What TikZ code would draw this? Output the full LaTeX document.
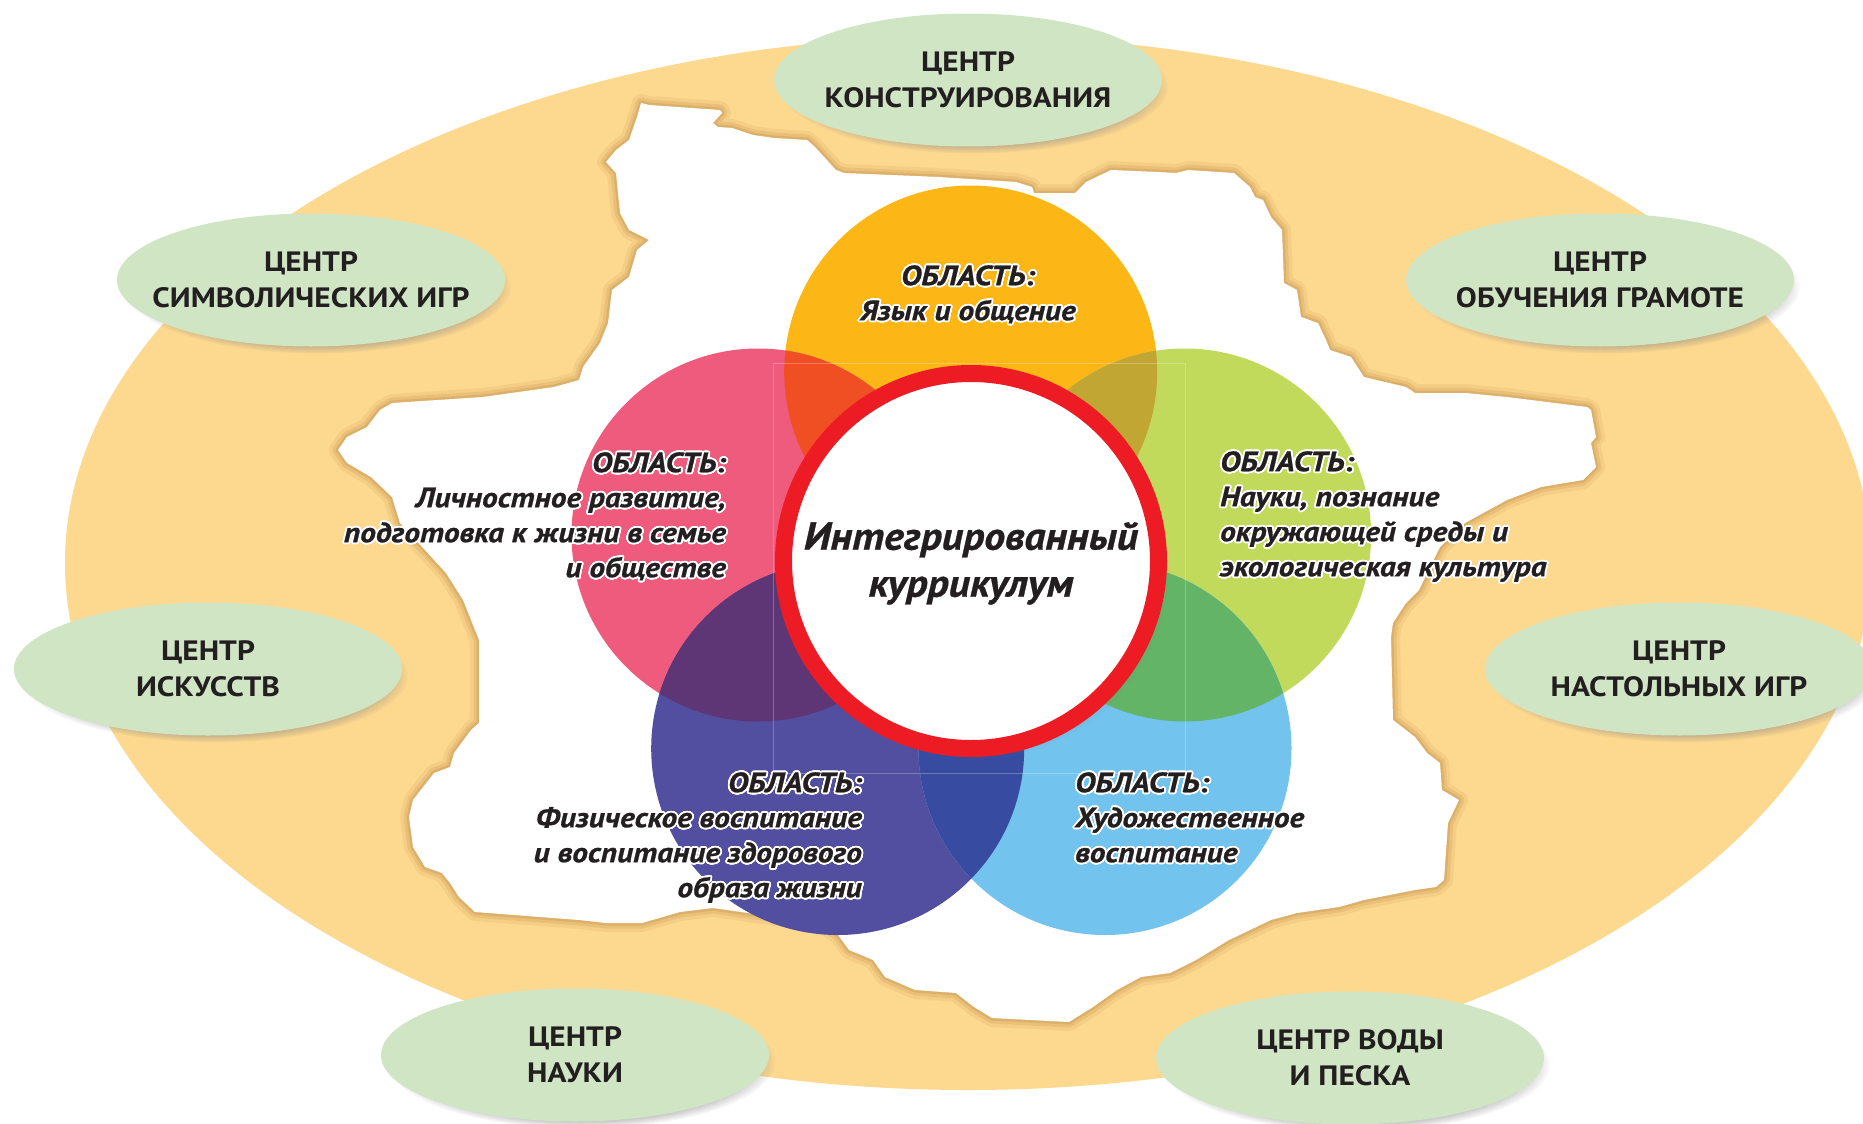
\documentclass[tikz,border=0pt]{standalone}
\usepackage{fontspec}
\usepackage[copies]{contour}
\usetikzlibrary{shapes.geometric,shadows,fadings}
\newfontfamily\pthub{PT Sans}[FakeStretch=1.12]
\newfontfamily\ptarea{PT Sans}[FakeStretch=1.12, FakeBold=0.8]
\newfontfamily\ptcore{PT Sans}[FakeStretch=1.07, FakeBold=0.8]
\contourlength{1.8pt}
\contournumber{24}
\definecolor{ringorange}{RGB}{253,216,143}
\definecolor{ringshade}{RGB}{190,140,70}
\definecolor{hubgreen}{RGB}{207,229,196}
\definecolor{inkdark}{RGB}{35,31,32}
\definecolor{cyellow}{RGB}{252,182,21}
\definecolor{cpink}{RGB}{239,91,125}
\definecolor{cgreen}{RGB}{193,218,92}
\definecolor{cpurple}{RGB}{82,79,160}
\definecolor{cblue}{RGB}{114,196,238}
\definecolor{oyp}{RGB}{240,78,35}
\definecolor{oyg}{RGB}{193,166,52}
\definecolor{opp}{RGB}{94,54,118}
\definecolor{ogb}{RGB}{100,180,103}
\definecolor{opb}{RGB}{55,75,160}
\definecolor{ringred}{RGB}{237,28,36}
\newcommand\hubfont{\pthub\bfseries\fontsize{28}{36}\selectfont}
\newcommand\areafont{\ptarea\bfseries\itshape\fontsize{28}{35}\selectfont}
\newcommand\corefont{\ptcore\bfseries\itshape\fontsize{39}{47}\selectfont}
\newcommand\wl[1]{\contour{white}{#1}}
\tikzset{
  franceshape/.style={insert path={(641,103) -- (649,105) -- (720,110) -- (722,113) -- (713,123) -- (718,127) -- (732,128) -- (753,135) -- (774,138) -- (807,140) -- (815,147) -- (836,170) -- (844,173) -- (939,177) -- (1016,182) -- (1032,187) -- (1034,193) -- (1075,193) -- (1086,182) -- (1111,170) -- (1158,172) -- (1176,173) -- (1188,170) -- (1234,173) -- (1250,187) -- (1255,197) -- (1263,200) -- (1271,217) -- (1282,230) -- (1284,283) -- (1297,290) -- (1301,317) -- (1318,323) -- (1326,340) -- (1330,350) -- (1351,357) -- (1364,377) -- (1406,387) -- (1415,393) -- (1465,393) -- (1507,397) -- (1587,407) -- (1591,410) -- (1596,437) -- (1591,443) -- (1596,467) -- (1583,480) -- (1541,487) -- (1507,500) -- (1465,523) -- (1440,547) -- (1419,590) -- (1406,603) -- (1393,623) -- (1391,637) -- (1393,720) -- (1415,737) -- (1427,753) -- (1440,763) -- (1442,790) -- (1459,800) -- (1448,823) -- (1444,880) -- (1436,887) -- (1415,890) -- (1364,900) -- (1339,907) -- (1297,913) -- (1271,920) -- (1229,940) -- (1196,960) -- (1170,973) -- (1141,977) -- (1117,990) -- (1093,1007) -- (1069,1022) -- (992,1018) -- (974,1007) -- (956,993) -- (915,990) -- (885,977) -- (873,960) -- (849,950) -- (838,935) -- (820,923) -- (748,913) -- (713,908) -- (680,912) -- (642,923) -- (606,923) -- (579,920) -- (475,912) -- (459,897) -- (450,883) -- (442,873) -- (425,867) -- (413,847) -- (409,817) -- (413,800) -- (434,773) -- (450,767) -- (454,753) -- (471,730) -- (479,723) -- (479,640) -- (463,600) -- (446,573) -- (425,550) -- (400,523) -- (392,497) -- (371,477) -- (347,463) -- (338,450) -- (347,437) -- (367,427) -- (380,410) -- (392,403) -- (483,397) -- (554,387) -- (579,380) -- (583,367) -- (600,343) -- (608,323) -- (612,290) -- (629,277) -- (637,250) -- (649,240) -- (629,230) -- (620,213) -- (616,173) -- (606,162) -- (616,150) -- (629,140) -- (637,117) -- cycle}},
  hub/.style={ellipse, fill=hubgreen, minimum width=388pt, minimum height=133pt, inner sep=0pt,
    circular drop shadow={shadow xshift=6pt, shadow yshift=-7pt, shadow scale=1, opacity=0.55}},
  hubtext/.style={font=\hubfont, text=inkdark, align=center, inner sep=0pt},
  areatext/.style={font=\areafont, text=inkdark, inner sep=0pt},
}
\begin{document}
\begin{tikzpicture}[x=1pt,y=-1pt]
\useasboundingbox (0,0) rectangle (1863,1124);
\fill[white] (0,0) rectangle (1863,1124);
% outer ring
\fill[ringorange] (968,563) ellipse [x radius=903, y radius=527];
% torn white area with soft shadow
\path[franceshape, draw=ringshade, line width=18pt, opacity=0.12, line join=round];
\path[franceshape, draw=ringshade, line width=11pt, opacity=0.2, line join=round];
\path[franceshape, draw=ringshade, line width=5pt, opacity=0.3, line join=round];
\path[franceshape, fill=white, rounded corners=2pt];
% petals
\coordinate (py) at (970.7,372);
\coordinate (pp) at (758,535);
\coordinate (pg) at (1184.6,535);
\coordinate (pv) at (837.7,748.5);
\coordinate (pb) at (1105,748.5);
\fill[cyellow] (py) circle [radius=186.5];
\fill[cpink] (pp) circle [radius=186.5];
\fill[cgreen] (pg) circle [radius=186.5];
\fill[cpurple] (pv) circle [radius=186.5];
\fill[cblue] (pb) circle [radius=186.5];
\begin{scope}\clip (py) circle [radius=186.5]; \fill[oyp] (pp) circle [radius=186.5]; \end{scope}
\begin{scope}\clip (py) circle [radius=186.5]; \fill[oyg] (pg) circle [radius=186.5]; \end{scope}
\begin{scope}\clip (pp) circle [radius=186.5]; \fill[opp] (pv) circle [radius=186.5]; \end{scope}
\begin{scope}\clip (pg) circle [radius=186.5]; \fill[ogb] (pb) circle [radius=186.5]; \end{scope}
\begin{scope}\clip (pv) circle [radius=186.5]; \fill[opb] (pb) circle [radius=186.5]; \end{scope}
\draw[white, opacity=0.25, line width=1pt] (773,363) rectangle (1185,773);
% core
\node[circle, minimum size=375pt, inner sep=0pt, fill=white, draw=ringred, line width=17pt,
  circular drop shadow={shadow xshift=7pt, shadow yshift=-7pt, shadow scale=1.02, opacity=0.4}] (core) at (971,561) {};
\node[font=\corefont, text=inkdark, align=center, inner sep=0pt, anchor=north] (coretext) at (971,522)
  {Интегрированный\\куррикулум};
% area texts
\node[areatext, align=center, anchor=north] (ayellow) at (968,265) {\wl{ОБЛАСТЬ:}\\\wl{Язык и общение}};
\node[areatext, align=right, anchor=north east] (apink) at (726,452)
  {\wl{ОБЛАСТЬ:}\\\wl{Личностное развитие,}\\\wl{подготовка к жизни в семье}\\\wl{и обществе}};
\node[areatext, align=left, anchor=north west] (agreen) at (1220,451)
  {\wl{ОБЛАСТЬ:}\\\wl{Науки, познание}\\\wl{окружающей среды и}\\\wl{экологическая культура}};
\node[areatext, align=right, anchor=north east] (apurple) at (862,772)
  {\wl{ОБЛАСТЬ:}\\\wl{Физическое воспитание}\\\wl{и воспитание здорового}\\\wl{образа жизни}};
\node[areatext, align=left, anchor=north west] (ablue) at (1075,772)
  {\wl{ОБЛАСТЬ:}\\\wl{Художественное}\\\wl{воспитание}};
% centres
\node[hub] (h1) at (968,80) {};
\node[hub] (h2) at (311,280) {};
\node[hub] (h3) at (1600,280) {};
\node[hub] (h4) at (208,669) {};
\node[hub] (h5) at (1679,669) {};
\node[hub] (h6) at (575,1055) {};
\node[hub] (h7) at (1350,1058) {};
\node[hubtext] (t1) at (h1) {ЦЕНТР\\КОНСТРУИРОВАНИЯ};
\node[hubtext] (t2) at (h2) {ЦЕНТР\\СИМВОЛИЧЕСКИХ ИГР};
\node[hubtext] (t3) at (h3) {ЦЕНТР\\ОБУЧЕНИЯ ГРАМОТЕ};
\node[hubtext] (t4) at (h4) {ЦЕНТР\\ИСКУССТВ};
\node[hubtext] (t5) at (h5) {ЦЕНТР\\НАСТОЛЬНЫХ ИГР};
\node[hubtext] (t6) at (h6) {ЦЕНТР\\НАУКИ};
\node[hubtext] (t7) at (h7) {ЦЕНТР ВОДЫ\\И ПЕСКА};
\end{tikzpicture}
\end{document}
